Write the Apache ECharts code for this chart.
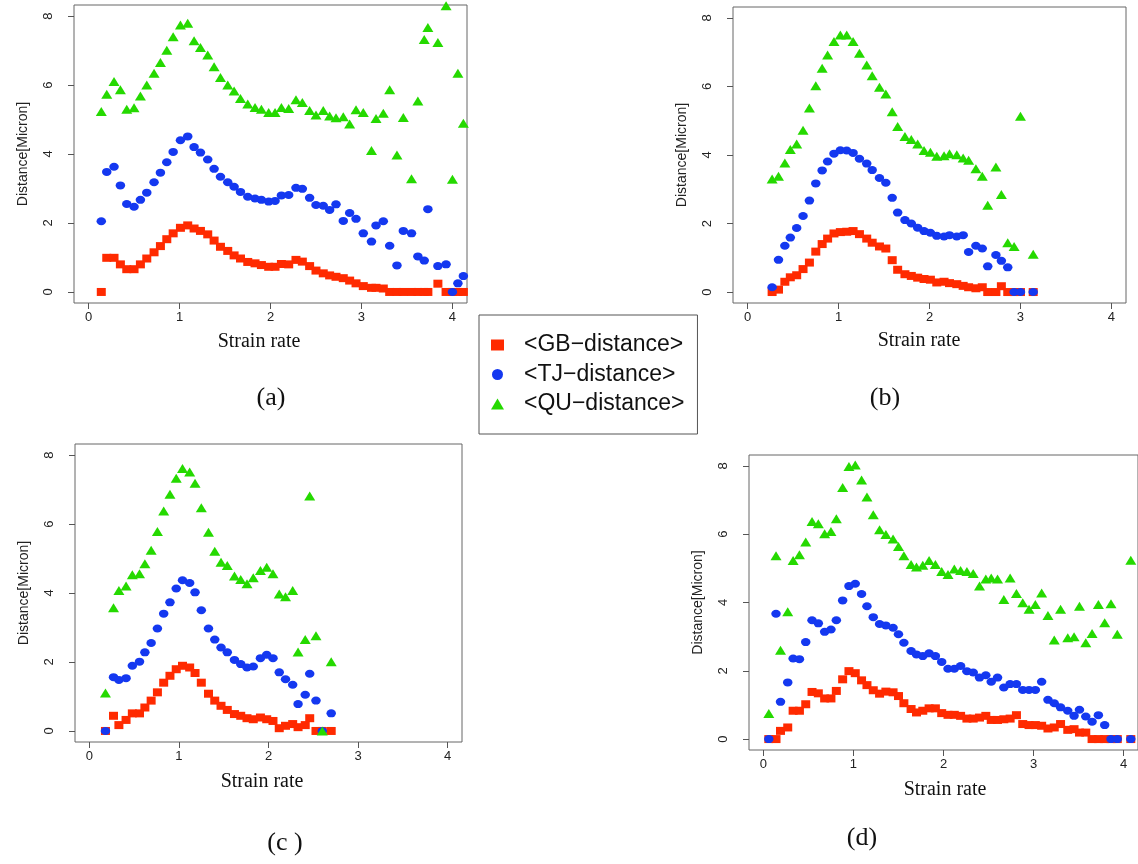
<!DOCTYPE html>
<html>
<head>
<meta charset="utf-8">
<script src="https://cdn.jsdelivr.net/npm/echarts@6/dist/echarts.min.js"></script>
<style>
  html, body { margin: 0; background: #fff; }
  #main { width: 1138px; height: 864px; }
</style>
</head>
<body>
<div id="main"></div>
<script>
// series names / tick labels
const seriesNames = ['<GB\u2212distance>', '<TJ\u2212distance>', '<QU\u2212distance>'];
const xTicks = [0, 1, 2, 3, 4];
const yTicks = [0, 2, 4, 6, 8];
const captions = ['(a)', '(b)', '(c )', '(d)'];

// (a)
const xA = [0.14,0.20,0.28,0.35,0.42,0.50,0.57,0.64,0.72,0.79,0.86,0.93,1.01,1.09,1.16,1.23,1.31,1.38,1.45,1.53,1.60,1.67,1.75,
  1.83,1.90,1.98,2.05,2.12,2.20,2.28,2.35,2.43,2.50,2.58,2.65,2.72,2.80,2.87,2.94,3.02,
  3.11,3.16,3.24,3.31,3.39,3.46,3.55,3.62,3.69,3.73,3.84,3.93,4.00,4.06,4.12];
const gbA = [0,0.99,0.99,0.80,0.66,0.66,0.80,0.97,1.15,1.33,1.53,1.70,1.86,1.93,1.84,1.77,1.67,1.49,1.31,1.19,1.06,0.97,0.87,
  0.83,0.78,0.73,0.73,0.81,0.80,0.93,0.88,0.75,0.62,0.54,0.48,0.44,0.40,0.33,0.25,0.17,
  0.12,0.12,0.10,0,0,0,0,0,0,0,0.24,0,0,0,0];
const tjA = [2.05,3.48,3.63,3.09,2.55,2.47,2.67,2.88,3.18,3.46,3.76,4.06,4.40,4.51,4.20,4.04,3.84,3.57,3.34,3.18,3.05,2.90,2.76,
  2.71,2.67,2.62,2.64,2.80,2.81,3.02,2.99,2.73,2.52,2.50,2.38,2.54,2.06,2.29,2.12,1.70,
  1.46,1.93,2.05,1.34,0.77,1.77,1.70,1.03,0.91,2.40,0.75,0.80,0,0.25,0.46];
const quA = [5.23,5.73,6.10,5.86,5.30,5.34,5.68,6.00,6.34,6.65,7.01,7.40,7.74,7.79,7.28,7.09,6.87,6.53,6.22,6.00,5.83,5.61,5.45,
  5.35,5.30,5.20,5.20,5.35,5.32,5.57,5.49,5.26,5.13,5.26,5.10,5.05,5.08,4.87,5.28,5.20,
  4.10,5.03,5.18,5.86,3.97,5.06,3.28,5.54,7.32,7.67,7.23,8.30,3.27,6.34,4.89];

// (b)
const xB = [0.27,0.34,0.41,0.47,0.54,0.61,0.68,0.75,0.82,0.88,0.95,1.02,1.09,1.16,1.23,1.31,1.37,1.45,1.52,1.59,1.65,
  1.73,1.80,1.87,1.94,2.01,2.08,2.16,2.22,2.30,2.37,2.43,2.51,2.58,2.64,2.73,2.79,2.86,2.93,3.00,3.14];
const gbB = [0,0.07,0.30,0.43,0.49,0.67,0.86,1.18,1.40,1.56,1.71,1.75,1.76,1.78,1.69,1.56,1.44,1.33,1.27,0.93,0.65,
  0.52,0.47,0.42,0.38,0.36,0.28,0.30,0.26,0.23,0.18,0.14,0.11,0.14,0,0,0.17,0,0,0,0];
const tjB = [0.14,0.94,1.35,1.59,1.87,2.22,2.67,3.17,3.55,3.81,4.04,4.14,4.13,4.06,3.89,3.75,3.56,3.33,3.19,2.75,2.32,
  2.10,2.00,1.88,1.78,1.73,1.64,1.62,1.66,1.62,1.66,1.17,1.35,1.27,0.75,1.08,0.91,0.72,0,0,0];
const quB = [3.30,3.38,3.77,4.16,4.32,4.72,5.37,6.02,6.53,6.92,7.31,7.50,7.50,7.31,6.97,6.63,6.31,5.98,5.78,5.26,4.83,
  4.54,4.45,4.32,4.13,4.08,3.96,3.98,4.04,4.01,3.91,3.85,3.60,3.38,2.53,3.65,2.85,1.44,1.33,5.13,1.10];

// (c)
const xC = [0.18,0.27,0.33,0.41,0.48,0.56,0.62,0.69,0.76,0.83,0.90,0.97,1.04,1.12,1.18,1.25,1.33,1.40,1.47,1.54,1.62,1.69,1.76,
  1.83,1.91,1.98,2.05,2.12,2.19,2.27,2.33,2.41,2.46,2.53,2.60,2.70];
const gbC = [0,0.44,0.17,0.32,0.51,0.51,0.68,0.88,1.12,1.40,1.60,1.79,1.89,1.84,1.68,1.40,1.08,0.88,0.73,0.61,0.49,0.44,0.37,
  0.34,0.39,0.34,0.29,0.08,0.15,0.20,0.11,0.17,0.37,0,0,0];
const tjC = [0,1.56,1.48,1.53,1.89,2.01,2.28,2.55,2.97,3.40,3.73,4.13,4.37,4.29,4.02,3.50,2.97,2.65,2.42,2.28,2.06,1.94,1.84,
  1.87,2.11,2.21,2.11,1.70,1.50,1.34,0.78,1.05,1.66,0.88,0,0.51];
const quC = [1.10,3.57,4.07,4.20,4.53,4.56,4.85,5.24,5.78,6.38,6.86,7.33,7.61,7.51,7.18,6.47,5.76,5.21,4.89,4.80,4.49,4.39,4.27,
  4.44,4.65,4.75,4.56,3.97,3.89,4.07,2.29,2.65,6.81,2.76,0,2.01];

// (d)
const xD = [0.06,0.14,0.19,0.27,0.33,0.40,0.47,0.54,0.61,0.68,0.75,0.81,0.88,0.95,1.02,1.09,1.15,1.22,1.29,1.36,1.44,1.50,1.56,1.64,1.70,
  1.77,1.84,1.91,1.98,2.05,2.12,2.19,2.26,2.33,2.40,2.47,2.53,2.60,2.67,2.74,2.81,2.88,2.95,3.02,3.09,
  3.16,3.23,3.30,3.38,3.45,3.51,3.58,3.65,3.72,3.79,3.86,3.93,4.08];
const gbD = [0,0,0.24,0.34,0.83,0.83,1.02,1.38,1.34,1.19,1.19,1.41,1.75,1.99,1.93,1.72,1.58,1.43,1.33,1.39,1.37,1.26,1.05,0.88,0.78,
  0.83,0.90,0.90,0.76,0.71,0.71,0.68,0.60,0.60,0.63,0.68,0.56,0.56,0.58,0.60,0.70,0.44,0.41,0.41,0.39,
  0.31,0.34,0.44,0.27,0.29,0.19,0.19,0,0,0,0,0,0];
const tjD = [0,3.67,1.09,1.66,2.36,2.34,2.84,3.48,3.39,3.14,3.21,3.48,4.06,4.48,4.55,4.25,3.89,3.57,3.37,3.33,3.26,3.07,2.82,2.58,2.48,
  2.43,2.51,2.43,2.26,2.06,2.06,2.14,1.99,1.95,1.80,1.87,1.68,1.80,1.51,1.61,1.61,1.44,1.44,1.44,1.68,
  1.15,1.05,0.93,0.83,0.68,0.86,0.66,0.51,0.70,0.41,0,0,0];
const quD = [0.75,5.37,2.60,3.73,5.23,5.40,5.77,6.37,6.31,6.01,6.08,6.45,7.37,7.98,8.03,7.59,7.09,6.57,6.13,5.99,5.86,5.64,5.37,5.11,5.04,
  5.09,5.23,5.11,4.91,4.82,4.98,4.94,4.91,4.85,4.48,4.69,4.72,4.69,4.09,4.72,4.26,3.99,3.80,3.94,4.28,
  3.62,2.90,3.80,2.97,3.00,3.89,2.82,3.09,3.94,3.41,3.96,3.07,5.24];

const panelData = [
  [xA, gbA, tjA, quA],
  [xB, gbB, tjB, quB],
  [xC, gbC, tjC, quC],
  [xD, gbD, tjD, quD]
];

// layout of the four plot boxes
const boxes = [
  { left: 74, top: 5, width: 393, height: 298 },
  { left: 733, top: 7, width: 393, height: 296 },
  { left: 75, top: 444, width: 387, height: 298 },
  { left: 749, top: 455, width: 391, height: 295 }
];
const xLabelPos = [[259, 342], [919, 341], [262, 782], [945, 790]];
const captionPos = [[271, 398], [885, 398], [285, 843], [862, 838]];

const colors = ['#ff2a00', '#1438f0', '#25d900'];
const symbols = ['rect', 'circle', 'triangle'];
const sizes = [[9, 8], [9.5, 8], [11, 9]];
const sans = 'Liberation Sans';
const serif = 'Liberation Serif';

var chartDom = document.getElementById('main');
var myChart = echarts.init(chartDom);

var grids = [], xAxes = [], yAxes = [], series = [], graphics = [];

boxes.forEach(function (b, i) {
  grids.push({
    left: b.left, top: b.top, width: b.width, height: b.height,
    show: true, borderColor: '#666', borderWidth: 1
  });
  xAxes.push({
    gridIndex: i, type: 'value', min: -0.16, max: 4.16, position: 'bottom',
    axisLine: { show: false, onZero: false },
    splitLine: { show: false },
    axisTick: { show: true, inside: false, length: 6, lineStyle: { color: '#555' }, customValues: xTicks },
    axisLabel: { customValues: xTicks, inside: false, margin: 8, fontSize: 13, color: '#222', fontFamily: sans }
  });
  yAxes.push({
    gridIndex: i, type: 'value', min: -0.32, max: 8.32, position: 'left',
    name: 'Distance[Micron]', nameLocation: 'middle', nameGap: 44,
    nameTextStyle: { fontFamily: sans, fontSize: 14, color: '#222' },
    axisLine: { show: false, onZero: false },
    splitLine: { show: false },
    axisTick: { show: true, inside: false, length: 6, lineStyle: { color: '#555' }, customValues: yTicks },
    axisLabel: { customValues: yTicks, inside: false, rotate: 90, margin: 19, fontSize: 13, color: '#222', fontFamily: sans }
  });

  var d = panelData[i];
  for (var s = 0; s < 3; s++) {
    var ys = d[s + 1];
    series.push({
      name: seriesNames[s],
      type: 'scatter',
      xAxisIndex: i, yAxisIndex: i,
      symbol: symbols[s],
      symbolSize: sizes[s],
      itemStyle: { color: colors[s], opacity: 1 },
      emphasis: { disabled: true },
      data: d[0].map(function (x, k) { return [x, ys[k]]; })
    });
  }

  graphics.push({
    type: 'text', x: xLabelPos[i][0], y: xLabelPos[i][1],
    style: { text: 'Strain rate', font: '20px "' + serif + '"', fill: '#111', textAlign: 'center', textVerticalAlign: 'middle' }
  });
  graphics.push({
    type: 'text', x: captionPos[i][0], y: captionPos[i][1],
    style: { text: captions[i], font: '26px "' + serif + '"', fill: '#111', textAlign: 'center', textVerticalAlign: 'middle' }
  });
});

var option = {
  animation: false,
  backgroundColor: '#fff',
  grid: grids,
  xAxis: xAxes,
  yAxis: yAxes,
  legend: {
    orient: 'vertical',
    left: 479, top: 315,
    padding: [18, 13, 18, 12],
    itemGap: 5.5,
    itemWidth: 13, itemHeight: 11,
    borderColor: '#555', borderWidth: 1,
    selectedMode: false,
    textStyle: { fontFamily: sans, fontSize: 23, color: '#111', lineHeight: 24, padding: [0, 0, 0, 15] },
    data: [
      { name: seriesNames[0], icon: 'rect' },
      { name: seriesNames[1], icon: 'circle' },
      { name: seriesNames[2], icon: 'triangle' }
    ]
  },
  graphic: graphics,
  series: series
};

option && myChart.setOption(option);
</script>
</body>
</html>
